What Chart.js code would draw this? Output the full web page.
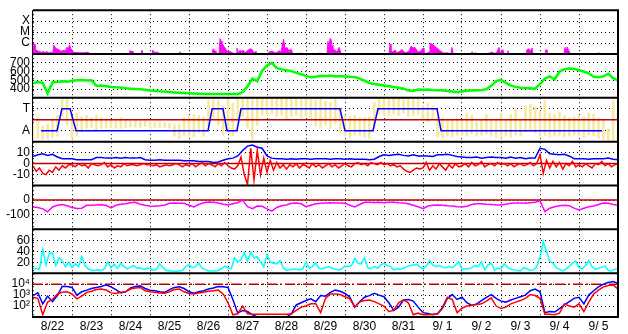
<!DOCTYPE html>
<html>
<head>
<meta charset="utf-8">
<script src="https://cdn.jsdelivr.net/npm/chart.js@4.4.0/dist/chart.umd.min.js"></script>
<style>
  html, body { margin: 0; padding: 0; background: #fff; }
  canvas { display: block; }
</style>
</head>
<body>
<canvas id="spaceWx" width="628" height="334"></canvas>
<script>
// time axis: hours since 8/22 00UT, 15 days
const DAY_LABELS = ['8/22', '8/23', '8/24', '8/25', '8/26', '8/27', '8/28', '8/29', '8/30', '8/31',
                    '9/ 1', '9/ 2', '9/ 3', '9/ 4', '9/ 5'];
const HOURS_TOTAL = 360;

// X-ray flux (W/m2)
const xrayHours = [
  0, 0.6, 1.2, 1.8, 2.5, 3.1, 4.3, 4.9, 6.2, 7.4, 8.6, 9.8, 11.1, 12.3, 12.6, 13.5, 14.2, 15.4, 16.6, 17.8, 19.1, 19.7, 20.9, 21.5, 22.5, 23.1, 24, 25.2, 28.9, 32, 33.8, 35.1, 36.3,
  59.1, 59.7, 60.3, 61.5, 62.2, 66.5, 67.1, 67.7, 73.2, 73.8, 74.5, 76.9, 77.5, 89.8, 90.5, 91.1,
  110.2, 110.8, 112, 112.6, 114.5, 115.1, 115.7, 116.3, 117.5, 118.8, 120, 121.2, 122.5, 125, 125.5, 126.2, 127.4, 128.6, 129.2, 130.5, 131.7, 133.5, 134.8, 136, 137.2, 137.8,
  144.6, 145.2, 147.1, 149.5, 151.4, 152.6, 154.2, 155.1, 156.3, 157.5, 158.8, 160, 165.5, 166.2,
  176, 176.6, 177.2, 180.9, 181.5, 182.2, 182.8, 183.4, 184, 184.6, 185.8, 187.1, 188.3, 189.5, 190.2,
  219.1, 219.7, 220.3, 221.5, 222.8, 224, 225.8, 227.1, 228.3, 229.5, 231.4, 232.6, 233.8, 235.1, 236.3, 237.5, 238.8, 240, 240.6, 241.8,
  243.7, 244.3, 245.5, 246.8, 248, 249.2, 250.5, 251.7, 252.9, 254.2, 255.4, 257.2, 257.8, 258.5, 259.7,
  269.5, 270.2, 270.8, 272, 272.6, 279.4, 280, 280.6, 281.8, 283.1, 283.7, 285.5, 286.8, 287.4, 289.2, 289.8, 291.7, 292.3, 292.9,
  299.1, 299.7, 300.3, 303.4, 304, 305.2, 306.5, 307.1, 307.7, 315.1, 315.7, 316.3,
  326.8, 327.4, 328, 328.6, 329.2, 329.8, 330.5, 347.1, 347.7, 348.3, 360
];
const xrayFlux = [
  9e-7, 3e-7, 8e-7, 2e-7, 2.3e-7, 1.5e-7, 1.9e-7, 1.2e-7, 1.8e-7, 1.3e-7, 1.7e-7, 1.2e-7, 1.5e-7, 1.2e-7, 6.5e-7, 4.5e-7, 3e-7, 2.8e-7, 2e-7, 1.8e-7, 2.3e-7, 1.6e-7, 4.2e-7, 2.5e-7, 7e-7, 3.5e-7, 2.2e-7, 1.4e-7, 1.3e-7, 1.3e-7, 1.5e-7, 1.1e-7, 1e-7,
  1e-7, 2e-7, 1.5e-7, 1.8e-7, 1e-7, 1e-7, 2.3e-7, 1e-7, 1e-7, 2.3e-7, 1.4e-7, 1.5e-7, 1e-7, 1e-7, 1.6e-7, 1e-7,
  1e-7, 3e-7, 2e-7, 1e-7, 1e-7, 2.6e-6, 1.5e-6, 9e-7, 5e-7, 2.5e-7, 1.5e-7, 1.8e-7, 1.3e-7, 1e-7, 3.4e-7, 1.2e-7, 2.3e-7, 1.5e-7, 2.3e-7, 1.3e-7, 1.8e-7, 3e-7, 2.6e-7, 1.2e-7, 1.8e-7, 1e-7,
  1e-7, 1.5e-7, 1.8e-7, 1.2e-7, 2e-7, 1.5e-7, 2.2e-6, 3e-7, 4e-7, 1.8e-7, 2.8e-7, 1e-7, 1.2e-7, 1e-7,
  1e-7, 1.3e-7, 1e-7, 1e-7, 1.4e-6, 4e-7, 2.6e-6, 2.2e-6, 6e-7, 2.5e-7, 2.3e-7, 1.5e-7, 4e-7, 1.3e-7, 1e-7,
  1e-7, 8e-7, 2e-7, 1.5e-7, 2.3e-7, 1.3e-7, 1.8e-7, 2.6e-7, 1.5e-7, 1.3e-7, 1.8e-7, 5e-7, 3.5e-7, 4e-7, 2e-7, 1.5e-7, 2e-7, 3.5e-7, 1.3e-7, 1.1e-7,
  1.5e-7, 9e-7, 8e-7, 6e-7, 4e-7, 3e-7, 2e-7, 1.5e-7, 1.2e-7, 1.3e-7, 1.2e-7, 1.1e-7, 4e-7, 1.2e-7, 1e-7,
  1e-7, 1.6e-7, 1e-7, 1.3e-7, 1e-7, 1e-7, 1.3e-7, 1e-7, 1.5e-7, 1.4e-7, 1e-7, 1.5e-7, 4e-7, 1.3e-7, 2.5e-7, 1e-7, 1e-7, 2e-7, 1e-7,
  1e-7, 1.2e-7, 1e-7, 1e-7, 2.5e-7, 3e-7, 1.8e-7, 3.5e-7, 1e-7, 1e-7, 2.5e-7, 1e-7,
  1e-7, 4e-7, 2.5e-7, 4.5e-7, 3e-7, 2e-7, 1e-7, 1e-7, 1.3e-7, 1e-7, 1e-7
];
const XRAY_TICKS = [1e-6, 1e-5, 1e-4];
const XRAY_CLASSES = ['C', 'M', 'X'];

// solar wind speed (km/s), every 3h
const windSpeed = [
  465, 480, 470, 350, 478, 482, 490, 485,
  495, 500, 505, 498, 500, 438, 440, 432,
  425, 420, 418, 410, 405, 400, 398, 392,
  385, 380, 375, 372, 367, 362, 358, 355,
  352, 350, 348, 345, 345, 343, 345, 344,
  345, 345, 345, 365, 430, 520, 490, 610,
  670, 700, 640, 625, 615, 605, 585, 570,
  548, 535, 540, 552, 548, 556, 545, 550,
  545, 540, 538, 520, 495, 470, 458, 450,
  440, 432, 425, 415, 405, 385, 380, 395,
  392, 395, 390, 388, 385, 378, 372, 365,
  372, 380, 385, 388, 390, 398, 440, 490,
  505, 470, 440, 425, 415, 412, 410, 405,
  460, 520, 545, 510, 600, 625, 635, 630,
  615, 600, 580, 540, 535, 545, 575, 525, 495
];

// IMF sector (A = away, T = toward) and spread of IMF angle, every 3h
const SECTOR_LEVEL = { A: 1, T: 3 };
const sectorHours = [4.9, 14.8, 17.8, 22.8, 26.5, 107.7, 110.2, 116.9, 119.4, 125.5, 128, 188.9, 192, 209.2, 212.3, 248.6, 251.1, 350.2];
const sectorSide = ['A', 'A', 'T', 'T', 'A', 'A', 'T', 'T', 'A', 'A', 'T', 'T', 'A', 'A', 'T', 'T', 'A', 'A'];
const SECTOR_MID = 2;
const phiLow = [
  0.2, 0.3, 0.2, 0.3, 0.4, 0.5, 2.3, 1.5,
  0.3, 0.5, 0.9, 1.2, 1.3, 1.1, 1.2, 1.3,
  1.3, 1.2, 1.2, 1.3, 1.35, 1.3, 1.3, 1.4,
  1.3, 1.3, 1.25, 1.3, 1.2, 0.5, 0.3, 0.6,
  0.5, 0.4, 0.8, 0.5, 1.5, 2.0, 1.5, 0.6,
  1.0, 0.5, 1.9, 2.3, 1.3, 0.2, 1.5, 2.4,
  2.4, 2.5, 2.3, 2.4, 2.1, 2.3, 2.4, 2.2,
  2.3, 2.1, 1.4, 1.3, 1.5, 1.2, 1.6, 0.8,
  0.6, 0.4, 0.6, 0.5, 0.4, 0.3, 1.2, 2.5,
  2.4, 2.4, 2.5, 2.4, 2.6, 2.3, 2.4, 2.5,
  2.0, 1.8, 2.0, 0.4, 0.3, 0.5, 0.4, 0.6,
  0.6, 0.5, 0.7, 0.5, 0.6, 0.7, 0.5, 0.4,
  0.3, 0.5, 0.4, 0.6, 0.5, 0.9, 1.0, 0.8,
  0.5, 0.6, 0.4, 0.5, 0.6, 0.4, 0.5, 0.6,
  0.5, 0.4, 0.6, 0.5, 0.3, 0.2, 0.1, 0.1, 0.1
];
const phiHigh = [
  1.5, 2.2, 1.4, 1.6, 2.0, 2.4, 4.0, 3.9,
  2.4, 2.6, 2.3, 2.4, 2.2, 2.4, 2.2, 2.0,
  2.0, 1.9, 2.2, 2.0, 1.9, 1.95, 1.85, 1.9,
  1.8, 1.75, 1.8, 1.75, 1.7, 1.6, 1.65, 2.2,
  2.4, 2.5, 2.4, 2.3, 3.8, 3.9, 3.8, 3.3,
  3.9, 3.5, 4.0, 4.0, 4.0, 3.9, 4.0, 4.0,
  4.0, 3.9, 4.0, 4.0, 3.9, 4.0, 4.0, 3.9,
  4.0, 3.9, 3.8, 3.9, 3.7, 3.6, 3.9, 3.0,
  2.4, 2.3, 2.4, 2.2, 2.2, 2.3, 3.6, 4.0,
  4.0, 3.9, 4.0, 3.9, 4.0, 3.9, 4.0, 3.9,
  3.3, 3.5, 3.3, 2.2, 2.2, 2.0, 1.9, 2.1,
  2.0, 2.6, 2.4, 1.8, 2.0, 2.5, 1.9, 2.1,
  2.6, 2.0, 2.5, 3.0, 1.9, 3.3, 3.4, 3.2,
  2.8, 3.8, 2.6, 2.5, 2.7, 2.4, 2.2, 2.3,
  2.4, 2.3, 2.6, 2.5, 2.2, 2.0, 1.2, 3.8, 1.0
];

// IMF Bt every 3h, Bz every 2h (nT)
const imfBt = [
  6.5, 8, 9, 7.5, 8.5, 6, 4.5, 4.5,
  4.5, 3.5, 3.5, 3.5, 3.5, 5.5, 5.5, 5,
  5, 5.5, 5, 5.5, 5, 5, 5.5, 3.5,
  3, 3, 3.5, 3, 3, 3, 3, 2.5,
  2.5, 2.5, 2, 2, 2, 1, 1.5, 3,
  4.5, 5, 7, 12, 16, 17, 15, 14,
  7, 5, 4.5, 4.5, 4, 4.5, 4, 4.5,
  4.5, 4, 4.5, 4.5, 4.5, 4, 4.5, 4.5,
  4, 4.5, 4, 4, 4, 3.5, 4, 6.5,
  8, 7.5, 8, 8.5, 7.5, 7, 8, 7,
  7, 7, 6.5, 8, 8, 8.5, 7.5, 6.5,
  6, 5.5, 5.5, 6, 5, 5.5, 6, 5.5,
  5.5, 5, 6, 5, 5.5, 4.5, 5, 5,
  14, 13, 9, 8.5, 8, 8.5, 7, 4.5,
  4.5, 4.5, 4, 4.5, 4.5, 4.5, 5, 4, 3.5
];
const imfBz = [
  -2, -7, -4, -9, -10, -6, -8, -3, -6, -2, -4, -1,
  -1, -3, 0, -2, -1, -4, 0, -1, -2, -1, 1, -3,
  -1, -4, -2, -3, 0, -2, -1, -1, -2, -1, 0, -1,
  -1, -2, -1, -3, -2, -1, -2, -1, 0, -1, -3, -1,
  -2, 0, -3, -1, 1, -2, 0, -1, -3, 0, -2, 1,
  -2, -4, -5, -2, 6, -10, -19, 14, -15, 12, -10, 5,
  -8, 3, -6, 1, -4, -1, -5, -1, -3, 0, -4, -1,
  -2, -4, 0, -3, -1, -4, -2, 0, -3, -1, -4, -2,
  0, -2, -3, 0, 1, -1, 0, -2, 1, 0, -1, 1,
  -1, 0, -2, -1, -3, -2, -5, -7, -8, -6, -4, -5,
  -4, 1, -6, -2, -5, 0, -3, -6, -1, -4, 0, -3,
  -2, 0, -3, 1, -2, -1, 2, -3, -1, 0, -2, 1,
  -1, 0, -2, 0, -3, -1, 0, -2, -1, 1, -2, 0,
  8, -9, 3, -4, 2, -3, 1, -5, 0, -2, 2, -3,
  -1, -3, 0, -2, -4, 0, -1, 2, -2, 0, -3, -1, 0
];

// Dst index (nT), every 3h
const dst = [
  -47, -50, -60, -80, -47, -35, -30, -38,
  -50, -58, -55, -35, -35, -33, -32, -35,
  -53, -35, -28, -25, -18, -15, -28, -35,
  -40, -42, -38, -33, -22, -20, -22, -22,
  -35, -47, -30, -18, -13, -15, -20, -28,
  -33, -25, -18, 0, -45, -58, -40, -42,
  -60, -75, -50, -38, -33, -22, -20, -25,
  -45, -35, -25, -22, -20, -18, -20, -20,
  -22, -35, -47, -30, -15, -15, -17, -15,
  -18, -15, -15, -18, -20, -25, -35, -45,
  -58, -40, -35, -33, -35, -38, -40, -45,
  -47, -42, -30, -25, -25, -28, -30, -33,
  -33, -28, -22, -20, -20, -22, -18, -15,
  -5, -78, -55, -45, -38, -35, -38, -55,
  -67, -55, -45, -40, -30, -20, -22, -30, -35
];

// geomagnetic activity, every 2h
const activity = [
  8, 9, 7, 43, 15, 36, 37, 14, 28, 22, 12, 20,
  10, 17, 12, 30, 14, 8, 5, 5, 6, 5, 8, 21,
  10, 16, 9, 18, 12, 8, 11, 14, 9, 10, 7, 9,
  9, 5, 7, 17, 10, 5, 4, 4, 3, 4, 5, 12,
  15, 10, 12, 18, 9, 7, 4, 4, 4, 5, 8, 13,
  10, 8, 28, 20, 25, 38, 22, 38, 28, 30, 21, 12,
  34, 20, 18, 17, 23, 10, 5, 6, 7, 7, 6, 8,
  21, 9, 12, 19, 9, 8, 10, 12, 9, 7, 6, 8,
  13, 12, 14, 27, 18, 17, 28, 10, 8, 12, 9, 15,
  18, 14, 12, 6, 8, 7, 9, 12, 14, 15, 16, 12,
  7, 13, 23, 15, 12, 14, 11, 10, 12, 10, 15, 21,
  7, 8, 8, 10, 14, 12, 21, 6, 15, 18, 5, 9,
  8, 17, 11, 7, 6, 5, 4, 10, 8, 5, 6, 12,
  30, 57, 39, 22, 18, 10, 7, 4, 8, 12, 18, 22,
  10, 8, 14, 23, 12, 7, 9, 11, 13, 5, 4, 7, 8
];

// electron flux, log10, every 3h
const elecBlueLog = [
  2.96, 3.2, 2.2, 2.9, 2.4, 2.96, 3.8, 3.78,
  3.7, 3.0, 3.3, 3.45, 3.6, 3.7, 3.78, 3.93,
  3.75, 3.5, 3.2, 3.3, 3.65, 3.78, 3.84, 3.6,
  3.45, 3.4, 3.3, 3.25, 3.5, 3.7, 3.76, 3.6,
  3.3, 3.16, 3.3, 3.4, 3.55, 3.65, 3.78, 3.75,
  3.7, 2.6, 1.35, 1.6, 1.5, 1.2, 1.0, 1.0,
  1.0, 1.0, 1.0, 1.0, 1.0, 1.3, 2.1, 2.3,
  2.5, 2.66, 2.4, 2.96, 2.9, 3.25, 3.45, 3.35,
  3.15, 2.8, 1.9, 2.4, 2.8, 2.95, 3.16, 3.0,
  2.85, 2.3, 1.6, 1.9, 2.55, 2.6, 2.45, 1.9,
  1.4, 1.33, 1.2, 1.3, 1.8, 2.7, 3.05, 2.6,
  2.8, 2.3, 2.05, 2.2, 2.5, 2.8, 3.05, 2.7,
  2.45, 2.36, 2.55, 2.7, 2.85, 3.0, 3.4, 3.55,
  3.3, 1.4, 1.5, 1.45, 1.77, 2.1, 2.4, 2.7,
  2.8, 2.2, 3.0, 3.4, 3.75, 4.0, 4.15, 4.23, 4.08
];
const elecRedLog = [
  2.8, 2.7, 1.2, 2.36, 2.6, 3.1, 3.25, 3.3,
  3.1, 2.66, 2.9, 3.25, 3.35, 3.5, 3.55, 3.46,
  3.2, 3.15, 3.25, 3.3, 3.55, 3.64, 3.7, 3.4,
  3.3, 3.25, 3.2, 3.16, 3.3, 3.5, 3.55, 3.3,
  3.15, 3.1, 3.2, 3.25, 3.34, 3.4, 3.46, 3.1,
  2.3, 1.2, 1.3, 2.0, 1.3, 1.25, 1.25, 1.25,
  1.25, 1.25, 1.25, 1.25, 1.25, 1.3, 1.6, 1.9,
  2.0, 2.2, 2.2, 1.4, 2.7, 3.1, 3.1, 3.05,
  2.85, 2.66, 1.9, 2.36, 2.5, 2.55, 2.4, 2.2,
  2.0, 1.5, 1.6, 2.3, 2.57, 2.3, 1.2, 1.35,
  1.2, 1.2, 1.25, 1.3, 1.9, 2.8, 2.6, 1.4,
  1.8, 2.0, 2.07, 2.15, 2.2, 2.45, 2.75, 2.0,
  1.77, 1.9, 2.2, 2.36, 2.5, 2.7, 3.05, 2.96,
  2.7, 1.25, 1.25, 1.2, 1.35, 2.2, 2.0, 1.9,
  2.2, 1.5, 2.36, 3.1, 3.45, 3.75, 3.88, 3.93, 3.55
];
const ELEC_ALERT = 1e4;
const ELEC_TICKS = [1e2, 1e3, 1e4];
const ELEC_LABELS = ['10\u00b2', '10\u00b3', '10\u2074'];

const PANELS = ['xr', 'sw', 'sec', 'imf', 'dst', 'act', 'ef'];

function stepped(step, values, map) {
  return values.map((v, i) => ({ x: i * step, y: map ? map(v) : v }));
}
function paired(hours, values, map) {
  return hours.map((h, i) => ({ x: h, y: map ? map(values[i]) : values[i] }));
}
function flat(v) {
  return [{ x: 0, y: v }, { x: HOURS_TOTAL, y: v }];
}

const FONT = { family: "'Liberation Sans', Arial, sans-serif", size: 12 };
Chart.defaults.font = FONT;
Chart.defaults.color = '#000';

function panelAxis(id, extra, tickVals, labelFor) {
  return Object.assign({
    position: 'left',
    stack: 'panels',
    stackWeight: 1,
    weight: PANELS.length - PANELS.indexOf(id),
    afterFit: s => { s.width = 33; },
    afterBuildTicks: s => { s.ticks = tickVals.map(v => ({ value: v })); },
    grid: { color: '#000', lineWidth: 1, drawTicks: false },
    border: { display: false, dash: [1, 3] },
    ticks: { color: '#000', padding: 3, autoSkip: false, font: FONT, callback: labelFor }
  }, extra);
}

const tickHours = [];
for (let h = 0; h <= HOURS_TOTAL; h += 12) tickHours.push(h);

// clip every dataset to its own panel
const panelClip = {
  id: 'panelClip',
  beforeDatasetDraw(chart, args) {
    const ys = chart.scales[args.meta.yAxisID];
    const a = chart.chartArea;
    chart.ctx.save();
    chart.ctx.beginPath();
    chart.ctx.rect(a.left, ys.top, a.right - a.left, ys.bottom - ys.top);
    chart.ctx.clip();
  },
  afterDatasetDraw(chart) {
    chart.ctx.restore();
  }
};

// black frame around and between panels
const panelFrames = {
  id: 'panelFrames',
  afterDraw(chart) {
    const ctx = chart.ctx, a = chart.chartArea;
    ctx.save();
    ctx.strokeStyle = '#000';
    ctx.lineWidth = 2;
    ctx.beginPath();
    PANELS.forEach((id, i) => {
      const s = chart.scales[id];
      if (i === 0) { ctx.moveTo(a.left, s.top); ctx.lineTo(a.right + 1, s.top); }
      ctx.moveTo(a.left, s.bottom); ctx.lineTo(a.right + 1, s.bottom);
    });
    ctx.moveTo(a.right, a.top); ctx.lineTo(a.right, a.bottom);
    ctx.stroke();
    ctx.lineWidth = 1;
    ctx.beginPath();
    ctx.moveTo(a.left - 0.5, a.top); ctx.lineTo(a.left - 0.5, a.bottom + 1);
    ctx.stroke();
    ctx.restore();
  }
};

const line = (extra) => Object.assign({ type: 'line', pointRadius: 0, borderWidth: 1.5, tension: 0, fill: false }, extra);
const lg = v => Math.pow(10, v);

new Chart(document.getElementById('spaceWx'), {
  type: 'line',
  data: {
    datasets: [
      line({ data: paired(xrayHours, xrayFlux), yAxisID: 'xr', borderColor: '#ff00ff', backgroundColor: '#ff00ff', borderWidth: 1, fill: 'start' }),
      line({ data: stepped(3, windSpeed), yAxisID: 'sw', borderColor: '#00ff00', borderWidth: 2.5 }),
      { type: 'bar', data: phiLow.map((lo, i) => ({ x: i * 3, y: [lo, phiHigh[i]] })), yAxisID: 'sec',
        backgroundColor: '#f9e8a2', barThickness: 2, order: 10 },
      line({ data: flat(SECTOR_MID), yAxisID: 'sec', borderColor: '#c00000', borderWidth: 1.5, order: 3 }),
      line({ data: paired(sectorHours, sectorSide, s => SECTOR_LEVEL[s]), yAxisID: 'sec', borderColor: '#0000ff', order: 2 }),
      line({ data: flat(0), yAxisID: 'imf', borderColor: '#c00000', borderWidth: 1.5, order: 5 }),
      line({ data: stepped(3, imfBt), yAxisID: 'imf', borderColor: '#0000ff', order: 2 }),
      line({ data: stepped(2, imfBz), yAxisID: 'imf', borderColor: '#ff0000', order: 1 }),
      line({ data: flat(0), yAxisID: 'dst', borderColor: '#c00000', borderWidth: 1.5, order: 5 }),
      line({ data: stepped(3, dst), yAxisID: 'dst', borderColor: '#ff00ff', order: 1 }),
      line({ data: stepped(2, activity), yAxisID: 'act', borderColor: '#00ffff' }),
      line({ data: flat(ELEC_ALERT), yAxisID: 'ef', borderColor: '#c00000', borderWidth: 1.5, borderDash: [10, 3, 2, 3], order: 5 }),
      line({ data: stepped(3, elecBlueLog, lg), yAxisID: 'ef', borderColor: '#0000ff', order: 2 }),
      line({ data: stepped(3, elecRedLog, lg), yAxisID: 'ef', borderColor: '#ff0000', order: 1 })
    ]
  },
  options: {
    responsive: false,
    animation: false,
    events: [],
    layout: { padding: { top: 2, right: 10, left: 0, bottom: 0 } },
    plugins: { legend: { display: false }, tooltip: { enabled: false } },
    scales: {
      x: {
        type: 'linear', min: 0, max: HOURS_TOTAL, offset: false,
        afterBuildTicks: s => { s.ticks = tickHours.map(v => ({ value: v })); },
        afterFit: s => { s.height = 17; },
        grid: {
          offset: false, drawTicks: false, lineWidth: 1,
          color: c => (c.tick && c.tick.value % 24 === 0) ? '#000' : 'rgba(0,0,0,0)'
        },
        border: { display: false, dash: [1, 3] },
        ticks: {
          autoSkip: false, maxRotation: 0, padding: 2, color: '#000', font: FONT,
          callback: v => (v % 24 === 12) ? DAY_LABELS[(v - 12) / 24] : ''
        }
      },
      xr: panelAxis('xr', { type: 'logarithmic', min: 1e-7, max: 1e-3 }, XRAY_TICKS, (v, i) => XRAY_CLASSES[i]),
      sw: panelAxis('sw', { type: 'linear', min: 300, max: 800 }, [400, 500, 600, 700], v => String(v)),
      sec: panelAxis('sec', { type: 'linear', min: 0, max: 4 }, [SECTOR_LEVEL.A, SECTOR_LEVEL.T], v => v === SECTOR_LEVEL.T ? 'T' : 'A'),
      imf: panelAxis('imf', { type: 'linear', min: -20, max: 20 }, [-10, 0, 10], v => String(v)),
      dst: panelAxis('dst', { type: 'linear', min: -200, max: 100 }, [-100, 0], v => String(v)),
      act: panelAxis('act', { type: 'linear', min: 0, max: 80 }, [20, 40, 60], v => String(v)),
      ef: panelAxis('ef', { type: 'logarithmic', min: 1e1, max: 1e5 }, ELEC_TICKS, (v, i) => ELEC_LABELS[i])
    }
  },
  plugins: [panelClip, panelFrames]
});
</script>
</body>
</html>
